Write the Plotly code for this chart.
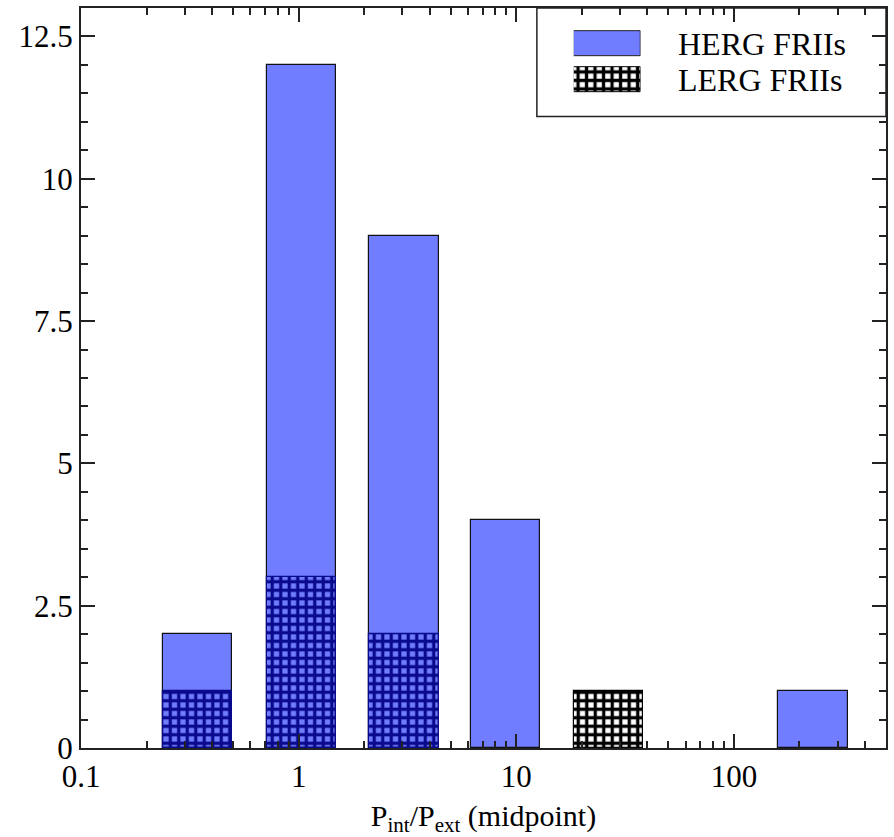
import numpy as np
import plotly.graph_objects as go

# Histogram of P_int/P_ext, bin midpoints (log-spaced bins)
midpoints = [0.344, 1.03, 3.05, 8.95, 26.6, 231.0]
herg_counts = [2, 12, 9, 4, 0, 1]
lerg_counts = [1, 3, 2, 0, 1, 0]

major_ticks = [0.1, 1, 10, 100]
major_labels = ["0.1", "1", "10", "100"]
x_range = [0.1, 500]
y_range = [0, 13]

FONT = "Liberation Serif"
BLUE = "#717dff"
NAVY = "#0a0a8c"

W, H = 894, 837
ML, MR, MT, MB = 81, 6, 6, 88
PW, PH = W - ML - MR, H - MT - MB


def px_x(px):
    return (px - ML) / PW


def px_y(py):
    return (H - MB - py) / PH


logx = np.log10(midpoints)
bar_w = 0.318  # in decades

lerg_fg = [NAVY if h > 0 else "black" for h in herg_counts]
lerg_line_w = [1.2 if c > 0 else 0 for c in lerg_counts]
herg_line_w = [1.2 if c > 0 else 0 for c in herg_counts]

hatch = dict(shape="+", size=8.5, solidity=0.62, fgopacity=1, fillmode="overlay")

fig = go.Figure()
fig.add_trace(go.Bar(
    x=logx, y=herg_counts, width=bar_w, name="HERG FRIIs",
    marker=dict(color=BLUE, line=dict(color="#111", width=herg_line_w)),
    showlegend=False,
))
fig.add_trace(go.Bar(
    x=logx, y=lerg_counts, width=bar_w, name="LERG FRIIs",
    marker=dict(
        color="rgba(0,0,0,0)",
        line=dict(color=lerg_fg, width=lerg_line_w),
        pattern=dict(**hatch, fgcolor=lerg_fg, bgcolor="rgba(0,0,0,0)"),
    ),
    showlegend=False,
))

# Legend swatches drawn on a small auxiliary axis pair
fig.add_trace(go.Bar(
    x=[1], y=[1], orientation="h", width=0.685, xaxis="x2", yaxis="y2",
    marker=dict(color=BLUE, line=dict(color="#222", width=1)), showlegend=False,
    hoverinfo="skip",
))
fig.add_trace(go.Bar(
    x=[1], y=[0], orientation="h", width=0.685, xaxis="x2", yaxis="y2",
    marker=dict(color="white", line=dict(color="black", width=1),
                pattern=dict(**hatch, fgcolor="black", bgcolor="white")),
    showlegend=False, hoverinfo="skip",
))

minor_vals = []
for d in range(-1, 3):
    for m in range(2, 10):
        v = m * 10 ** d
        if v < x_range[1]:
            minor_vals.append(np.log10(v))

axis_common = dict(
    showline=True, linecolor="#222", linewidth=2, mirror="ticks",
    ticks="inside", ticklen=14, tickwidth=1.5, tickcolor="#222",
    showgrid=False, zeroline=False,
    tickfont=dict(family=FONT, size=31, color="black"),
)

fig.update_layout(
    width=W, height=H,
    margin=dict(l=ML, r=MR, t=MT, b=MB),
    paper_bgcolor="white", plot_bgcolor="white",
    barmode="overlay",
    bargap=0,
    xaxis=dict(
        **axis_common,
        range=[np.log10(x_range[0]), np.log10(x_range[1])],
        tickmode="array", tickvals=np.log10(major_ticks), ticktext=major_labels,
        minor=dict(tickmode="array", tickvals=minor_vals, ticks="inside",
                   ticklen=7, tickwidth=1.5, tickcolor="#222"),
        title=dict(text="P<sub>int</sub>/P<sub>ext</sub> (midpoint)",
                   font=dict(family=FONT, size=30, color="black"), standoff=16),
    ),
    yaxis=dict(
        **axis_common,
        range=y_range, dtick=2.5, tick0=0,
        minor=dict(dtick=0.5, ticks="inside", ticklen=7, tickwidth=1.5, tickcolor="#222"),
    ),
    xaxis2=dict(domain=[px_x(575), px_x(642)], range=[0, 1], anchor="y2",
                visible=False, fixedrange=True),
    yaxis2=dict(domain=[px_y(96.25), px_y(23.25)], range=[-0.5, 1.5], anchor="x2",
                visible=False, fixedrange=True),
    shapes=[dict(type="rect", xref="paper", yref="paper",
                 x0=px_x(538), x1=1, y0=px_y(115), y1=1,
                 line=dict(color="#222", width=1.5), fillcolor="rgba(0,0,0,0)")],
    annotations=[
        dict(text="HERG FRIIs", x=px_x(677), y=px_y(42), xref="paper", yref="paper",
             xanchor="left", yanchor="middle", showarrow=False,
             font=dict(family=FONT, size=32, color="black")),
        dict(text="LERG FRIIs", x=px_x(677), y=px_y(78), xref="paper", yref="paper",
             xanchor="left", yanchor="middle", showarrow=False,
             font=dict(family=FONT, size=32, color="black")),
    ],
)

fig.write_html("out.html")
